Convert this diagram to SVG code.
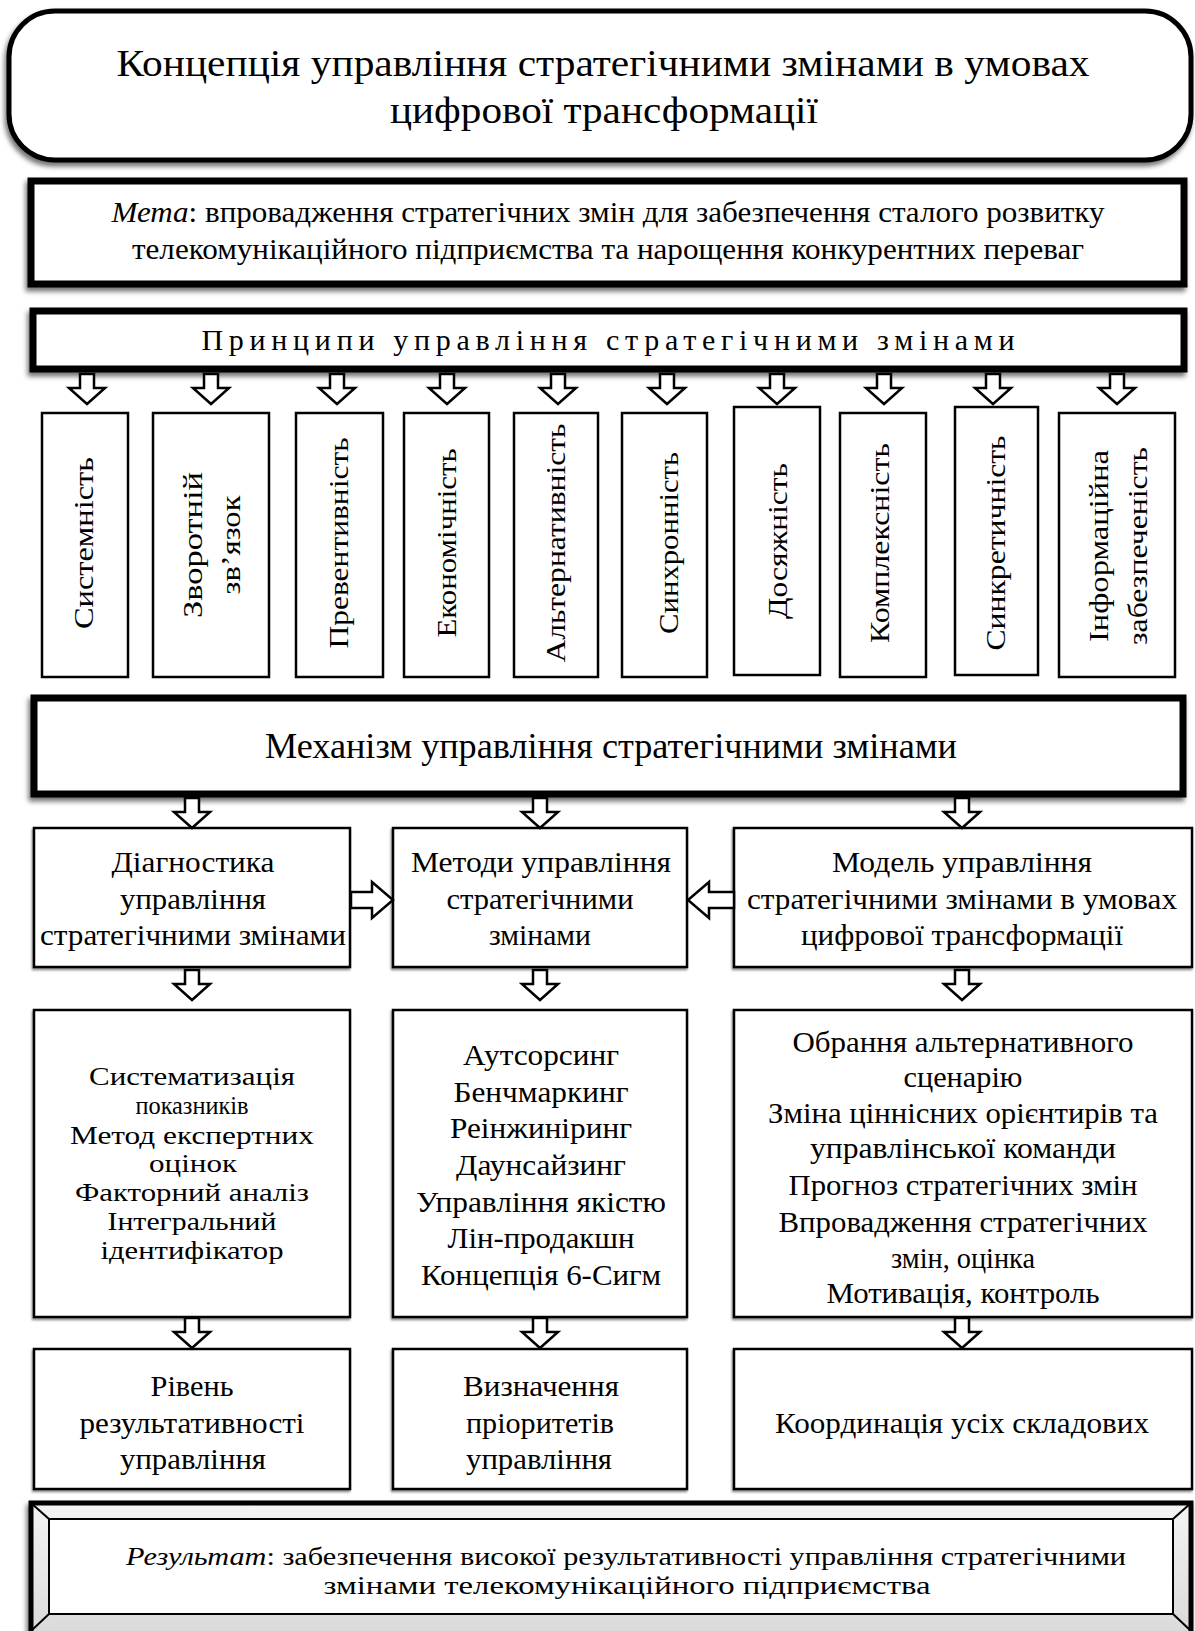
<svg xmlns="http://www.w3.org/2000/svg" width="1195" height="1631" viewBox="0 0 1195 1631">
<defs>
<style>
.t{font-family:"Liberation Serif","Times New Roman","DejaVu Serif",serif;fill:#000;text-anchor:middle}
.box{fill:#fff;stroke:#000;stroke-width:2.5}
.heavy{fill:#fff;stroke:#000;stroke-width:7}
.arr{fill:#fff;stroke:#000;stroke-width:2.5;stroke-linejoin:miter}
.f38{font-size:37px}.f30{font-size:30px}.f28{font-size:28px}.f26{font-size:26px}.f36{font-size:36px}
</style>
<filter id="sh" x="-5%" y="-20%" width="110%" height="150%"><feDropShadow dx="-2" dy="4" stdDeviation="2.5" flood-color="#000" flood-opacity="0.55"/></filter>
<filter id="sh2" x="-5%" y="-5%" width="110%" height="115%"><feDropShadow dx="-1" dy="2" stdDeviation="1" flood-color="#000" flood-opacity="0.45"/></filter>
<path id="ad" d="M-7,0 H7 V14 H18 L0,30 L-18,14 H-7 Z"/>
<linearGradient id="bev" x1="0" y1="0" x2="0" y2="1"><stop offset="0" stop-color="#f4f4f4"/><stop offset="1" stop-color="#d8d8d8"/></linearGradient>
</defs>

<g id="title">
<rect x="9" y="11" width="1182" height="149" rx="46" ry="46" fill="#fff" stroke="#000" stroke-width="5" filter="url(#sh)"/>
<text class="t f38" x="603" y="76" textLength="973" lengthAdjust="spacingAndGlyphs">Концепція управління стратегічними змінами в умовах</text>
<text class="t f38" x="604" y="123" textLength="428" lengthAdjust="spacingAndGlyphs">цифрової трансформації</text>
</g>

<g id="goal">
<rect class="heavy" x="31" y="181" width="1153" height="103" filter="url(#sh)"/>
<text class="t f30" x="608" y="222" textLength="993" lengthAdjust="spacingAndGlyphs"><tspan font-style="italic">Мета</tspan>: впровадження стратегічних змін для забезпечення сталого розвитку</text>
<text class="t f30" x="608" y="259" textLength="952" lengthAdjust="spacingAndGlyphs">телекомунікаційного підприємства та нарощення конкурентних переваг</text>
</g>

<g id="principles">
<rect class="heavy" x="33" y="311" width="1151" height="58" stroke-width="6" filter="url(#sh)"/>
<text class="t f30" x="608" y="350" textLength="813" lengthAdjust="spacing">Принципи управління стратегічними змінами</text>
</g>

<g id="p1"><rect class="box" x="42" y="413" width="86" height="264"/>
<text class="t f28" transform="translate(93,543) rotate(-90)" textLength="172" lengthAdjust="spacingAndGlyphs">Системність</text></g>
<g id="p2"><rect class="box" x="153" y="413" width="116" height="264"/>
<text class="t f28" transform="translate(202,545) rotate(-90)" textLength="146" lengthAdjust="spacingAndGlyphs">Зворотній</text>
<text class="t f28" transform="translate(240,545) rotate(-90)" textLength="99" lengthAdjust="spacingAndGlyphs">зв’язок</text></g>
<g id="p3"><rect class="box" x="296" y="413" width="87" height="264"/>
<text class="t f28" transform="translate(348,543) rotate(-90)" textLength="211" lengthAdjust="spacingAndGlyphs">Превентивність</text></g>
<g id="p4"><rect class="box" x="404" y="413" width="85" height="264"/>
<text class="t f28" transform="translate(456,543) rotate(-90)" textLength="189" lengthAdjust="spacingAndGlyphs">Економічність</text></g>
<g id="p5"><rect class="box" x="514" y="413" width="84" height="264"/>
<text class="t f28" transform="translate(565,543) rotate(-90)" textLength="239" lengthAdjust="spacingAndGlyphs">Альтернативність</text></g>
<g id="p6"><rect class="box" x="622" y="413" width="85" height="264"/>
<text class="t f28" transform="translate(678,543) rotate(-90)" textLength="182" lengthAdjust="spacingAndGlyphs">Синхронність</text></g>
<g id="p7"><rect class="box" x="734" y="407" width="86" height="268"/>
<text class="t f28" transform="translate(787,541) rotate(-90)" textLength="156" lengthAdjust="spacingAndGlyphs">Досяжність</text></g>
<g id="p8"><rect class="box" x="840" y="413" width="86" height="264"/>
<text class="t f28" transform="translate(889,543) rotate(-90)" textLength="200" lengthAdjust="spacingAndGlyphs">Комплексність</text></g>
<g id="p9"><rect class="box" x="955" y="407" width="83" height="268"/>
<text class="t f28" transform="translate(1005,543) rotate(-90)" textLength="215" lengthAdjust="spacingAndGlyphs">Синкретичність</text></g>
<g id="p10"><rect class="box" x="1059" y="413" width="116" height="264"/>
<text class="t f28" transform="translate(1108,546) rotate(-90)" textLength="192" lengthAdjust="spacingAndGlyphs">Інформаційна</text>
<text class="t f28" transform="translate(1147,546) rotate(-90)" textLength="198" lengthAdjust="spacingAndGlyphs">забезпеченість</text></g>

<g id="mechanism">
<rect class="heavy" x="34" y="698" width="1149" height="96" stroke-width="8" filter="url(#sh)"/>
<text class="t f36" x="611" y="758" textLength="692" lengthAdjust="spacingAndGlyphs">Механізм управління стратегічними змінами</text>
</g>

<g id="diag">
<rect class="box" x="34" y="828" width="316" height="139" filter="url(#sh2)"/>
<text class="t f30" x="193" y="872" textLength="163" lengthAdjust="spacingAndGlyphs">Діагностика</text>
<text class="t f30" x="193" y="909" textLength="146" lengthAdjust="spacingAndGlyphs">управління</text>
<text class="t f30" x="193" y="945" textLength="306" lengthAdjust="spacingAndGlyphs">стратегічними змінами</text>
</g>
<g id="methods">
<rect class="box" x="393" y="828" width="294" height="139" filter="url(#sh2)"/>
<text class="t f30" x="541" y="872" textLength="260" lengthAdjust="spacingAndGlyphs">Методи управління</text>
<text class="t f30" x="540" y="909" textLength="187" lengthAdjust="spacingAndGlyphs">стратегічними</text>
<text class="t f30" x="540" y="945" textLength="102" lengthAdjust="spacingAndGlyphs">змінами</text>
</g>
<g id="model">
<rect class="box" x="734" y="828" width="458" height="139" filter="url(#sh2)"/>
<text class="t f30" x="962" y="872" textLength="260" lengthAdjust="spacingAndGlyphs">Модель управління</text>
<text class="t f30" x="962" y="909" textLength="430" lengthAdjust="spacingAndGlyphs">стратегічними змінами в умовах</text>
<text class="t f30" x="962" y="945" textLength="322" lengthAdjust="spacingAndGlyphs">цифрової трансформації</text>
</g>

<g id="diag-tools">
<rect class="box" x="34" y="1010" width="316" height="307" filter="url(#sh2)"/>
<text class="t f26" x="192" y="1085" textLength="206" lengthAdjust="spacingAndGlyphs">Систематизація</text>
<text class="t f26" x="192" y="1114" textLength="113" lengthAdjust="spacingAndGlyphs">показників</text>
<text class="t f26" x="192" y="1144" textLength="244" lengthAdjust="spacingAndGlyphs">Метод експертних</text>
<text class="t f26" x="193" y="1172" textLength="88" lengthAdjust="spacingAndGlyphs">оцінок</text>
<text class="t f26" x="192" y="1201" textLength="234" lengthAdjust="spacingAndGlyphs">Факторний аналіз</text>
<text class="t f26" x="192" y="1230" textLength="169" lengthAdjust="spacingAndGlyphs">Інтегральний</text>
<text class="t f26" x="192" y="1259" textLength="183" lengthAdjust="spacingAndGlyphs">ідентифікатор</text>
</g>
<g id="methods-list">
<rect class="box" x="393" y="1010" width="294" height="307" filter="url(#sh2)"/>
<text class="t f30" x="541" y="1065" textLength="156" lengthAdjust="spacingAndGlyphs">Аутсорсинг</text>
<text class="t f30" x="541" y="1102" textLength="175" lengthAdjust="spacingAndGlyphs">Бенчмаркинг</text>
<text class="t f30" x="541" y="1138" textLength="182" lengthAdjust="spacingAndGlyphs">Реінжиніринг</text>
<text class="t f30" x="541" y="1175" textLength="170" lengthAdjust="spacingAndGlyphs">Даунсайзинг</text>
<text class="t f30" x="541" y="1212" textLength="250" lengthAdjust="spacingAndGlyphs">Управління якістю</text>
<text class="t f30" x="541" y="1248" textLength="187" lengthAdjust="spacingAndGlyphs">Лін-продакшн</text>
<text class="t f30" x="541" y="1285" textLength="240" lengthAdjust="spacingAndGlyphs">Концепція 6-Сигм</text>
</g>
<g id="model-steps">
<rect class="box" x="734" y="1010" width="458" height="307" filter="url(#sh2)"/>
<text class="t f30" x="963" y="1052" textLength="341" lengthAdjust="spacingAndGlyphs">Обрання альтернативного</text>
<text class="t f30" x="963" y="1087" textLength="119" lengthAdjust="spacingAndGlyphs">сценарію</text>
<text class="t f30" x="963" y="1123" textLength="390" lengthAdjust="spacingAndGlyphs">Зміна ціннісних орієнтирів та</text>
<text class="t f30" x="963" y="1158" textLength="306" lengthAdjust="spacingAndGlyphs">управлінської команди</text>
<text class="t f30" x="963" y="1195" textLength="349" lengthAdjust="spacingAndGlyphs">Прогноз стратегічних змін</text>
<text class="t f30" x="963" y="1232" textLength="369" lengthAdjust="spacingAndGlyphs">Впровадження стратегічних</text>
<text class="t f30" x="963" y="1268" textLength="144" lengthAdjust="spacingAndGlyphs">змін, оцінка</text>
<text class="t f30" x="963" y="1303" textLength="273" lengthAdjust="spacingAndGlyphs">Мотивація, контроль</text>
</g>

<g id="level">
<rect class="box" x="34" y="1349" width="316" height="140" filter="url(#sh2)"/>
<text class="t f30" x="192" y="1396" textLength="83" lengthAdjust="spacingAndGlyphs">Рівень</text>
<text class="t f30" x="192" y="1433" textLength="225" lengthAdjust="spacingAndGlyphs">результативності</text>
<text class="t f30" x="193" y="1469" textLength="146" lengthAdjust="spacingAndGlyphs">управління</text>
</g>
<g id="priorities">
<rect class="box" x="393" y="1349" width="294" height="140" filter="url(#sh2)"/>
<text class="t f30" x="541" y="1396" textLength="156" lengthAdjust="spacingAndGlyphs">Визначення</text>
<text class="t f30" x="540" y="1433" textLength="148" lengthAdjust="spacingAndGlyphs">пріоритетів</text>
<text class="t f30" x="539" y="1469" textLength="146" lengthAdjust="spacingAndGlyphs">управління</text>
</g>
<g id="coordination">
<rect class="box" x="734" y="1349" width="458" height="140" filter="url(#sh2)"/>
<text class="t f30" x="962" y="1433" textLength="374" lengthAdjust="spacingAndGlyphs">Координація усіх складових</text>
</g>

<g id="result">
<rect x="31" y="1503" width="1160" height="140" fill="url(#bev)" stroke="#000" stroke-width="5" filter="url(#sh)"/>
<rect x="49" y="1519" width="1124" height="95" fill="#fff" stroke="#000" stroke-width="2"/>
<path d="M31,1503 L49,1519 M1191,1503 L1173,1519 M31,1631 L49,1614 M1191,1631 L1173,1614" stroke="#000" stroke-width="2" fill="none"/>
<text class="t f26" x="626" y="1565" textLength="1000" lengthAdjust="spacingAndGlyphs"><tspan font-style="italic">Результат</tspan>: забезпечення високої результативності управління стратегічними</text>
<text class="t f26" x="627" y="1594" textLength="607" lengthAdjust="spacingAndGlyphs">змінами телекомунікаційного підприємства</text>
</g>

<g id="connectors">
<use href="#ad" class="arr" x="87" y="374"/>
<use href="#ad" class="arr" x="211" y="374"/>
<use href="#ad" class="arr" x="337" y="374"/>
<use href="#ad" class="arr" x="447" y="374"/>
<use href="#ad" class="arr" x="558" y="374"/>
<use href="#ad" class="arr" x="667" y="374"/>
<use href="#ad" class="arr" x="777" y="374"/>
<use href="#ad" class="arr" x="884" y="374"/>
<use href="#ad" class="arr" x="993" y="374"/>
<use href="#ad" class="arr" x="1117" y="374"/>
<use href="#ad" class="arr" x="192" y="798"/>
<use href="#ad" class="arr" x="540" y="798"/>
<use href="#ad" class="arr" x="962" y="798"/>
<use href="#ad" class="arr" x="192" y="970"/>
<use href="#ad" class="arr" x="540" y="970"/>
<use href="#ad" class="arr" x="962" y="970"/>
<use href="#ad" class="arr" x="192" y="1318"/>
<use href="#ad" class="arr" x="540" y="1318"/>
<use href="#ad" class="arr" x="962" y="1318"/>
<path class="arr" d="M351,892 H372 V882 L393,900 L372,918 V908 H351 Z"/>
<path class="arr" d="M734,892 H709 V882 L688,900 L709,918 V908 H734 Z"/>
</g>
</svg>
